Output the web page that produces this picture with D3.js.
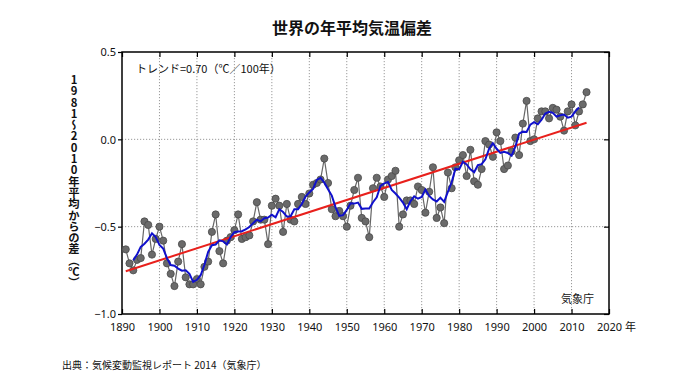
<!DOCTYPE html>
<html><head><meta charset="utf-8">
<script src="https://cdn.jsdelivr.net/npm/d3@7"></script>
<style>
html,body{margin:0;padding:0;background:#fff;}
text{font-family:"Noto Sans CJK JP","Noto Sans",sans-serif;}
</style></head>
<body><svg id="c" width="700" height="386"></svg>
<script>
const startYear = 1891;
const anomalies = [
-0.63,-0.71,-0.75,-0.69,-0.68,-0.47,-0.49,-0.66,-0.57,-0.50,
-0.58,-0.71,-0.77,-0.84,-0.70,-0.60,-0.79,-0.83,-0.83,-0.80,
-0.83,-0.73,-0.70,-0.53,-0.43,-0.64,-0.71,-0.58,-0.56,-0.52,
-0.43,-0.57,-0.56,-0.55,-0.47,-0.36,-0.46,-0.46,-0.60,-0.38,
-0.34,-0.38,-0.53,-0.37,-0.46,-0.47,-0.37,-0.33,-0.37,-0.31,
-0.26,-0.25,-0.23,-0.11,-0.25,-0.40,-0.44,-0.41,-0.44,-0.50,
-0.38,-0.29,-0.22,-0.45,-0.47,-0.56,-0.28,-0.22,-0.27,-0.33,
-0.23,-0.21,-0.18,-0.50,-0.43,-0.35,-0.35,-0.37,-0.27,-0.29,
-0.42,-0.30,-0.16,-0.45,-0.39,-0.48,-0.19,-0.28,-0.16,-0.12,
-0.09,-0.21,-0.06,-0.24,-0.26,-0.17,-0.01,-0.03,-0.10,0.04,
-0.01,-0.17,-0.15,-0.07,0.01,-0.09,0.09,0.22,-0.01,0.00,
0.12,0.16,0.16,0.12,0.18,0.17,0.13,0.05,0.16,0.20,
0.08,0.16,0.20,0.27
];
const trendYears = [1891, 2014];
const trendValues = [-0.755, 0.095];
const xTicks = [1890,1900,1910,1920,1930,1940,1950,1960,1970,1980,1990,2000,2010,2020];
const yTicks = [0.5, 0.0, -0.5, -1.0];
const gridYears = [1900,1910,1920,1930,1940,1950,1960,1970,1980,1990,2000,2010];
const gridValues = [0.0, -0.5];
const runWindow = 5;

const points = anomalies.map((v,i)=>({year:startYear+i, v}));
const half = Math.floor(runWindow/2);
const running = [];
for (let i=half;i<anomalies.length-half;i++){
  running.push({year:startYear+i, v:d3.mean(anomalies.slice(i-half,i+half+1))});
}
const trend = trendYears.map((y,i)=>({year:y, v:trendValues[i]}));

const svg = d3.select("#c");
const L=122,R=609,T=52,B=314;
const x = d3.scaleLinear().domain([1890,2020]).range([L,R]);
const y = d3.scaleLinear().domain([-1.0,0.5]).range([B,T]);

// grid
svg.append("g").selectAll("line").data(gridYears).join("line")
  .attr("x1",d=>x(d)).attr("x2",d=>x(d)).attr("y1",T).attr("y2",B)
  .attr("stroke","#9a9a9a").attr("stroke-width",1).attr("stroke-dasharray","1.2,1.8");
svg.append("g").selectAll("line").data(gridValues).join("line")
  .attr("x1",L).attr("x2",R).attr("y1",d=>y(d)).attr("y2",d=>y(d))
  .attr("stroke","#9a9a9a").attr("stroke-width",1).attr("stroke-dasharray","1.2,1.8");

// axes
const fmt = d3.format(".1f");
const axB = svg.append("g").attr("transform",`translate(0,${B})`)
  .call(d3.axisBottom(x).tickValues(xTicks).tickFormat(d3.format("d")).tickSizeInner(-5).tickSizeOuter(0).tickPadding(9));
const axT = svg.append("g").attr("transform",`translate(0,${T})`)
  .call(d3.axisTop(x).tickValues(xTicks).tickFormat("").tickSizeInner(-5).tickSizeOuter(0));
const axL = svg.append("g").attr("transform",`translate(${L},0)`)
  .call(d3.axisLeft(y).tickValues(yTicks).tickFormat(d=>d===0?"0.0":fmt(d)).tickSizeInner(4).tickSizeOuter(0).tickPadding(2));
const axR = svg.append("g").attr("transform",`translate(${R},0)`)
  .call(d3.axisRight(y).tickValues(yTicks).tickFormat("").tickSizeInner(-5).tickSizeOuter(0));
[axB,axT,axL,axR].forEach(a=>{
  a.select(".domain").remove();
  a.selectAll(".tick line").attr("stroke","#000").attr("stroke-width",1.2);
  a.selectAll("text").attr("font-size",11).attr("fill","#111").style("font-family","'Noto Sans','Noto Sans CJK JP',sans-serif");
});
axL.selectAll("text").attr("dy","0.36em");

// frame
svg.append("rect").attr("x",L).attr("y",T).attr("width",R-L).attr("height",B-T)
  .attr("fill","none").attr("stroke","#000").attr("stroke-width",1.5);

// data line + points
const line = d3.line().x(d=>x(d.year)).y(d=>y(d.v));
svg.append("path").datum(points).attr("d",line).attr("fill","none")
  .attr("stroke","#666").attr("stroke-width",1.2);
svg.append("g").selectAll("circle").data(points).join("circle")
  .attr("cx",d=>x(d.year)).attr("cy",d=>y(d.v)).attr("r",3.6)
  .attr("fill","#6a6a6a").attr("stroke","#4a4a4a").attr("stroke-width",0.8);
svg.append("path").datum(trend).attr("d",line).attr("fill","none")
  .attr("stroke","#e8201c").attr("stroke-width",2);
svg.append("path").datum(running).attr("d",line).attr("fill","none")
  .attr("stroke","#1010cc").attr("stroke-width",2);

// texts
svg.append("text").attr("x",352).attr("y",34).attr("text-anchor","middle")
  .attr("font-size",16).attr("font-weight","bold").attr("fill","#111").text("世界の年平均気温偏差");
svg.append("text").attr("x",136).attr("y",73).attr("font-size",11).attr("fill","#111")
  .text("トレンド=0.70（℃／100年）");
svg.append("text").attr("x",594).attr("y",303).attr("text-anchor","end").attr("font-size",11).attr("fill","#111")
  .text("気象庁");
svg.append("text").attr("x",625).attr("y",331).attr("font-size",11).attr("fill","#111").text("年");
svg.append("text").attr("x",62).attr("y",369).attr("font-size",10).attr("fill","#111")
  .text("出典：気候変動監視レポート 2014（気象庁）");
svg.append("text").attr("x",74).attr("y",74)
  .attr("font-size",11.3).attr("font-weight","bold").attr("fill","#111")
  .style("writing-mode","vertical-rl").style("text-orientation","upright")
  .text("1981～2010年平均からの差（℃）");
</script></body></html>
